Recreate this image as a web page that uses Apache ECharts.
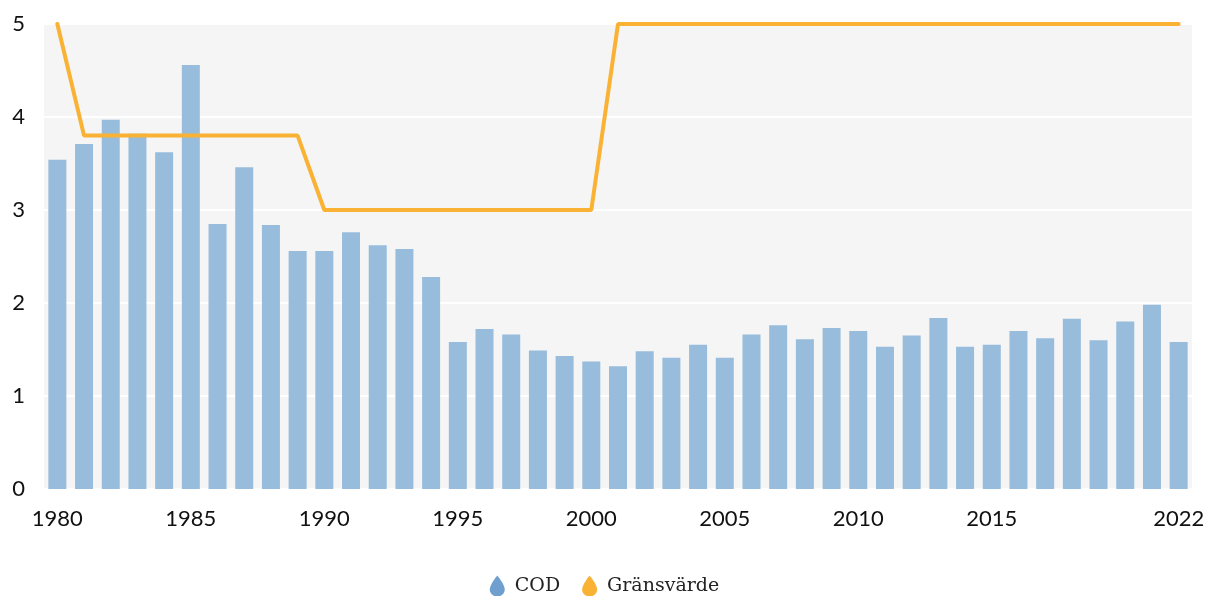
<!DOCTYPE html>
<html>
<head>
<meta charset="utf-8">
<script src="https://cdn.jsdelivr.net/npm/echarts@6/dist/echarts.min.js"></script>
<style>
  html, body { margin: 0; padding: 0; background: #fff; }
  #main { width: 1209px; height: 596px; }
</style>
</head>
<body>
<div id="main"></div>
<script>
// år
var years = [];
for (var y = 1980; y <= 2022; y++) years.push(String(y));

// COD
var cod = [
  3.54, 3.71, 3.97, 3.82, 3.62, 4.56, 2.85, 3.46, 2.84, 2.56,
  2.56, 2.76, 2.62, 2.58, 2.28, 1.58, 1.72, 1.66, 1.49, 1.43,
  1.37, 1.32, 1.48, 1.41, 1.55, 1.41, 1.66, 1.76, 1.61, 1.73,
  1.70, 1.53, 1.65, 1.84, 1.53, 1.55, 1.70, 1.62, 1.83, 1.60,
  1.80, 1.98, 1.58
];

// gränsvärde
var limit = [
  5, 3.8, 3.8, 3.8, 3.8, 3.8, 3.8, 3.8, 3.8, 3.8,
  3, 3, 3, 3, 3, 3, 3, 3, 3, 3,
  3, 5, 5, 5, 5, 5, 5, 5, 5, 5,
  5, 5, 5, 5, 5, 5, 5, 5, 5, 5,
  5, 5, 5
];

var shownLabels = ['1980', '1985', '1990', '1995', '2000', '2005', '2010', '2015', '2022'];
// droppe
var drop = 'path://M7.5 0C7.5 0 0 9 0 14C0 18 3.4 21 7.5 21C11.6 21 15 18 15 14C15 9 7.5 0 7.5 0Z';

var chart = echarts.init(document.getElementById('main'));
chart.setOption({
  animation: false,
  grid: {
    left: 44, right: 17, top: 24, bottom: 107,
    show: true, backgroundColor: '#f5f5f5', borderWidth: 0
  },
  legend: {
    top: 566,
    left: 'center',
    itemWidth: 15,
    itemHeight: 21,
    itemGap: 22,
    textStyle: { fontFamily: 'DejaVu Serif', fontSize: 19, lineHeight: 22, color: '#222', padding: [8, 0, 0, 5] },
    data: [
      { name: 'COD', icon: drop, itemStyle: { color: '#6e9fcf' } },
      { name: 'Gränsvärde', icon: drop, itemStyle: { color: '#f9b233' } }
    ]
  },
  xAxis: {
    type: 'category',
    data: years,
    axisLine: { show: false },
    axisTick: { show: false },
    axisLabel: {
      interval: function (i, v) { return shownLabels.indexOf(v) >= 0; },
      fontFamily: 'Lato', fontSize: 22, color: '#111', margin: 19
    }
  },
  yAxis: {
    type: 'value',
    min: 0, max: 5, interval: 1,
    axisLabel: { fontFamily: 'Lato', fontSize: 22, color: '#111', margin: 19 },
    splitLine: { lineStyle: { color: '#fff', width: 2 } }
  },
  series: [
    {
      name: 'COD',
      type: 'bar',
      data: cod,
      barWidth: 18,
      itemStyle: { color: '#97bcdc' }
    },
    {
      name: 'Gränsvärde',
      type: 'line',
      data: limit,
      symbol: 'none',
      itemStyle: { color: '#f9b233' },
      lineStyle: { color: '#f9b233', width: 4, cap: 'round' }
    }
  ]
});
</script>
</body>
</html>
